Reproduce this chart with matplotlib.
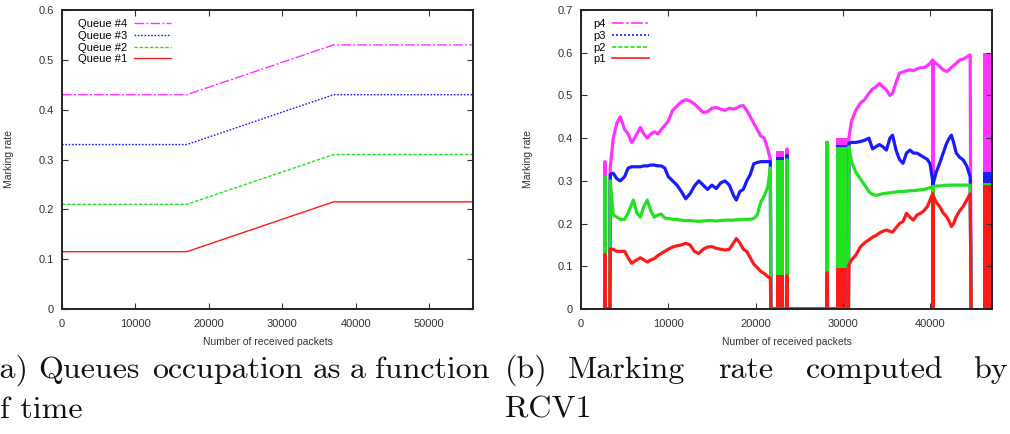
import matplotlib
matplotlib.use("Agg")
import matplotlib.pyplot as plt
from matplotlib.lines import Line2D

# (a) queue occupation
q_pkt = [0, 17000, 37000, 56000]
queue4 = [0.43, 0.43, 0.53, 0.53]
queue3 = [0.33, 0.33, 0.43, 0.43]
queue2 = [0.21, 0.21, 0.31, 0.31]
queue1 = [0.115, 0.115, 0.215, 0.215]

# (b) marking rate computed by RCV1 (zeros = no marking computed)
pkt = [2700, 2750, 2800, 3300, 3350,
       3700, 4100, 4500, 5000, 5400,
       5800, 6000, 6400, 6800, 7200,
       7600, 8000, 8400, 8800, 9200,
       9600, 10000, 10500, 11000, 11500,
       12000, 12500, 13000, 13500, 14000,
       14500, 15000, 15500, 16000, 16500,
       17000, 17500, 17800, 18200, 18600,
       19000, 19400, 19800, 20200, 20600,
       21000, 21400, 21700, 21760,
       23550, 23600, 23650, 28150, 28200, 28250, 30650,
       30700, 31000, 31500, 32000, 32500,
       33000, 33400, 33800, 34200, 34600,
       35000, 35400, 35700, 36100, 36500,
       36900, 37300, 37700, 38100, 38500,
       38900, 39300, 39700, 40000, 40300,
       40340, 40380, 40700, 41100, 41500,
       41900, 42200, 42450, 42700, 43000,
       43400, 43800, 44200, 44600, 44700]
p4 = [0, 0.345, 0, 0, 0.33,
      0.40, 0.435, 0.45, 0.42, 0.41,
      0.39, 0.395, 0.41, 0.425, 0.41,
      0.40, 0.41, 0.415, 0.41, 0.42,
      0.43, 0.44, 0.465, 0.475, 0.485,
      0.49, 0.487, 0.48, 0.47, 0.46,
      0.462, 0.47, 0.472, 0.468, 0.465,
      0.47, 0.468, 0.47, 0.475, 0.476,
      0.465, 0.45, 0.435, 0.42, 0.405,
      0.40, 0.375, 0.35, 0,
      0, 0.375, 0, 0, 0.39, 0, 0,
      0.40, 0.44, 0.465, 0.482, 0.49,
      0.505, 0.515, 0.52, 0.528, 0.52,
      0.513, 0.50, 0.505, 0.53, 0.552,
      0.555, 0.558, 0.56, 0.558, 0.562,
      0.565, 0.565, 0.57, 0.575, 0.583,
      0, 0.58, 0.575, 0.568, 0.56,
      0.556, 0.56, 0.566, 0.57, 0.575,
      0.583, 0.585, 0.59, 0.595, 0]
p3 = [0, 0.31, 0, 0, 0.315,
      0.318, 0.305, 0.30, 0.31, 0.33,
      0.333, 0.333, 0.333, 0.333, 0.335,
      0.335, 0.337, 0.337, 0.335, 0.335,
      0.33, 0.31, 0.30, 0.29, 0.275,
      0.258, 0.27, 0.288, 0.30, 0.29,
      0.28, 0.29, 0.282, 0.295, 0.30,
      0.29, 0.265, 0.255, 0.275, 0.28,
      0.30, 0.315, 0.34, 0.343, 0.345,
      0.345, 0.345, 0.345, 0,
      0, 0.36, 0, 0, 0.39, 0, 0,
      0.388, 0.39, 0.39, 0.392, 0.395,
      0.40, 0.375, 0.38, 0.385, 0.38,
      0.372, 0.40, 0.407, 0.372, 0.35,
      0.341, 0.365, 0.372, 0.365, 0.365,
      0.36, 0.355, 0.35, 0.34, 0.30,
      0, 0.295, 0.32, 0.341, 0.365,
      0.388, 0.40, 0.407, 0.39, 0.365,
      0.355, 0.349, 0.335, 0.31, 0]
p2 = [0, 0.31, 0, 0, 0.30,
      0.22, 0.215, 0.21, 0.21, 0.225,
      0.245, 0.255, 0.225, 0.215, 0.24,
      0.255, 0.23, 0.215, 0.22, 0.222,
      0.213, 0.212, 0.21, 0.21, 0.208,
      0.207, 0.207, 0.206, 0.205, 0.206,
      0.207, 0.207, 0.206, 0.207, 0.208,
      0.208, 0.208, 0.209, 0.209, 0.21,
      0.21, 0.21, 0.212, 0.22, 0.25,
      0.265, 0.285, 0.33, 0,
      0, 0.35, 0, 0, 0.39, 0, 0,
      0.38, 0.345, 0.32, 0.305, 0.29,
      0.275, 0.268, 0.266, 0.268, 0.27,
      0.271, 0.272, 0.273, 0.274, 0.275,
      0.275, 0.276, 0.277, 0.277, 0.278,
      0.279, 0.28, 0.282, 0.284, 0.286,
      0, 0.287, 0.288, 0.288, 0.289,
      0.29, 0.29, 0.29, 0.29, 0.29,
      0.29, 0.29, 0.29, 0.29, 0]
p1 = [0, 0.128, 0, 0, 0.14,
      0.14, 0.135, 0.135, 0.135, 0.12,
      0.107, 0.11, 0.115, 0.12, 0.115,
      0.11, 0.115, 0.118, 0.125, 0.13,
      0.135, 0.14, 0.145, 0.148, 0.15,
      0.154, 0.15, 0.135, 0.13, 0.14,
      0.145, 0.146, 0.142, 0.14, 0.138,
      0.14, 0.155, 0.165, 0.155, 0.14,
      0.135, 0.12, 0.105, 0.097, 0.088,
      0.083, 0.076, 0.072, 0,
      0, 0.078, 0, 0, 0.085, 0, 0,
      0.103, 0.115, 0.126, 0.145, 0.155,
      0.162, 0.168, 0.172, 0.178, 0.182,
      0.185, 0.182, 0.18, 0.19, 0.20,
      0.205, 0.224, 0.215, 0.208, 0.22,
      0.224, 0.23, 0.24, 0.255, 0.27,
      0, 0.265, 0.25, 0.24, 0.225,
      0.216, 0.205, 0.193, 0.20, 0.216,
      0.23, 0.24, 0.255, 0.27, 0]

# dense bursts where the rate flips to zero on almost every packet
burst_start = [22300, 29250, 46050]
burst_end = [23250, 30700, 47000]
burst_p4 = [0.37, 0.40, 0.60]
burst_p3 = [0.355, 0.385, 0.32]
burst_p2 = [0.35, 0.38, 0.295]
burst_p1 = [0.08, 0.095, 0.29]

ticks_a = [0, 10000, 20000, 30000, 40000, 50000]
ticks_b = [0, 10000, 20000, 30000, 40000]
yticks_a = [0, 0.1, 0.2, 0.3, 0.4, 0.5, 0.6]
yticks_b = [0, 0.1, 0.2, 0.3, 0.4, 0.5, 0.6, 0.7]

RED, GREEN, BLUE, MAGENTA = "#ff1a1a", "#22e022", "#1a1aff", "#ff33ff"
DASH4 = (0, (7, 1.5, 1.5, 1.5))
DASH3 = (0, (1.2, 1.2))
DASH2 = (0, (2.5, 1.2))


def style_axes(ax, xt, yt):
    ax.set_xticks(xt)
    ax.set_xticklabels([str(t) for t in xt])
    ax.set_yticks(yt)
    ax.set_yticklabels(["0" if t == 0 else f"{t:.1f}" for t in yt])
    ax.tick_params(direction="in", length=4, width=0.8, top=True, right=True,
                   labelsize=8, labelcolor="#333333", color="#333333")
    ax.tick_params(axis="x", pad=7)
    ax.tick_params(axis="y", pad=6)
    for s in ax.spines.values():
        s.set_linewidth(1.4)
        s.set_color("#222222")
    ax.set_xlabel("Number of received packets", fontsize=7.5, color="#333333")
    ax.set_ylabel("Marking rate", fontsize=7.5, color="#333333")
    ax.xaxis.set_label_coords(0.5, -0.095)
    ax.yaxis.set_label_coords(-0.118, 0.5)


plt.rcParams["font.family"] = ["Liberation Sans", "DejaVu Sans"]
fig = plt.figure(figsize=(10.1, 4.34), dpi=100)
ax1 = fig.add_axes([62 / 1010, 125 / 434, 411 / 1010, 299 / 434])
ax2 = fig.add_axes([581 / 1010, 125 / 434, 411 / 1010, 299 / 434])

# (a)
ax1.plot(q_pkt, queue4, color=MAGENTA, lw=1.0, ls=DASH4, label="Queue #4")
ax1.plot(q_pkt, queue3, color=BLUE, lw=1.0, ls=DASH3, label="Queue #3")
ax1.plot(q_pkt, queue2, color=GREEN, lw=1.0, ls=DASH2, label="Queue #2")
ax1.plot(q_pkt, queue1, color=RED, lw=1.0, label="Queue #1")
ax1.set_xlim(0, 56000)
ax1.set_ylim(0, 0.6)
style_axes(ax1, ticks_a, yticks_a)
ax1.legend(loc="upper left", bbox_to_anchor=(0.02, 0.995), frameon=False,
           markerfirst=False, fontsize=8, handlelength=3.3, handletextpad=0.6,
           labelspacing=0.15, borderpad=0.2)

# (b)
series = [(p4, burst_p4, MAGENTA, DASH4, "p4"), (p3, burst_p3, BLUE, DASH3, "p3"),
          (p2, burst_p2, GREEN, DASH2, "p2"), (p1, burst_p1, RED, "-", "p1")]
handles = []
for vals, bvals, col, ls, name in series:
    ax2.bar(burst_start, bvals, width=[e - s for s, e in zip(burst_start, burst_end)],
            align="edge", color=col, linewidth=0)
    ax2.plot(pkt, vals, color=col, lw=2.3)
    handles.append(Line2D([], [], color=col, lw=1.2, ls=ls, label=name))
ax2.set_xlim(0, 47100)
ax2.set_ylim(0, 0.7)
style_axes(ax2, ticks_b, yticks_b)
ax2.legend(handles=handles, loc="upper left", bbox_to_anchor=(0.01, 0.995),
           frameon=False, markerfirst=False, fontsize=8, handlelength=3.3,
           handletextpad=0.6, labelspacing=0.15, borderpad=0.2)

# sub-captions (justified lines, words placed one by one)
cap = dict(family="cmr10", fontsize=23, color="#111111", va="baseline", ha="left")
line1 = [("(a)", -12), ("Queues", 38), ("occupation", 152), ("as", 313), ("a", 350),
         ("function", 375), ("(b)", 505), ("Marking", 568), ("rate", 718),
         ("computed", 806)]
for word, xpos in line1:
    fig.text(xpos / 1010, 1 - 378 / 434, word, **cap)
fig.text(1008 / 1010, 1 - 378 / 434, "by", **{**cap, "ha": "right"})
fig.text(-16 / 1010, 1 - 418 / 434, "of time", **cap)
fig.text(505 / 1010, 1 - 418 / 434, "RCV1", **cap)

fig.savefig("out.png", dpi=100)
